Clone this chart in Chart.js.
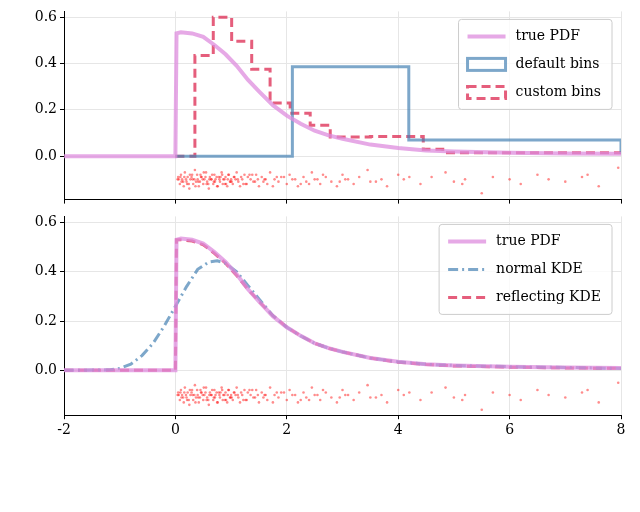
<!DOCTYPE html>
<html><head>
<script src="https://cdn.jsdelivr.net/npm/chart.js@4"></script>
<style>
body{margin:0;background:#fff;width:640px;height:512px;position:relative;overflow:hidden}
.c{position:absolute;left:0;width:640px}
</style></head><body>
<div class="c" style="top:0;height:211px"><canvas id="top"></canvas></div>
<div class="c" style="top:205px;height:237px"><canvas id="bot"></canvas></div>
<script>
// curves
const pdfX = [-2, 0, 0.02, 0.1, 0.3, 0.5, 0.7, 0.9, 1.1, 1.3, 1.5, 1.75, 2, 2.25, 2.5, 2.75, 3, 3.5, 4, 4.5, 5, 6, 7, 8];
const pdfY = [0, 0, 0.53, 0.535, 0.53, 0.515, 0.48, 0.44, 0.39, 0.33, 0.28, 0.22, 0.175, 0.14, 0.11, 0.09, 0.075, 0.05, 0.035, 0.025, 0.02, 0.015, 0.012, 0.01];
const kdeX = [-2, -1.2, -1.0, -0.8, -0.6, -0.4, -0.2, 0, 0.2, 0.4, 0.6, 0.75, 0.9, 1.1, 1.3, 1.5, 1.75, 2, 2.25, 2.5, 2.75, 3, 3.5, 4, 4.5, 5, 6, 7, 8];
const kdeY = [0, 0.002, 0.008, 0.025, 0.06, 0.11, 0.18, 0.26, 0.34, 0.41, 0.44, 0.445, 0.435, 0.4, 0.345, 0.29, 0.222, 0.175, 0.14, 0.11, 0.09, 0.075, 0.05, 0.035, 0.025, 0.02, 0.015, 0.012, 0.008];
const reflX = [-2, 0, 0.02, 0.1, 0.3, 0.5, 0.7, 0.9, 1.1, 1.3, 1.5, 1.75, 2, 2.25, 2.5, 2.75, 3, 3.5, 4, 4.5, 5, 6, 7, 8];
const reflY = [0, 0, 0.53, 0.53, 0.525, 0.51, 0.475, 0.435, 0.385, 0.33, 0.28, 0.222, 0.175, 0.14, 0.11, 0.09, 0.075, 0.05, 0.033, 0.024, 0.018, 0.013, 0.01, 0.008];
// histograms: bin edges and the height of the bin ending at each edge
const defEdges = [0, 0, 2.1, 4.19, 8];
const defHeights = [0, 0, 0.386, 0.07, 0.012];
const cusEdges = [0, 0, 0.35, 0.68, 1.01, 1.37, 1.7, 2.06, 2.42, 2.78, 3.5, 4.45, 4.8, 8];
const cusHeights = [0, 0, 0.435, 0.6, 0.496, 0.375, 0.23, 0.185, 0.133, 0.083, 0.085, 0.03, 0.015, 0.012];
// sample rug
const sampX = [0.05,0.08,0.1,0.12,0.15,0.17,0.2,0.22,0.25,0.27,0.3,0.32,0.35,0.37,0.4,0.42,0.45,0.47,0.5,0.52,0.55,0.57,0.6,0.62,0.65,0.68,0.7,0.72,0.75,0.78,0.8,0.83,0.85,0.88,0.9,0.93,0.95,0.98,1.0,1.03,1.06,1.1,1.13,1.16,1.2,1.24,1.28,1.3,1.35,1.4,1.45,1.5,1.55,1.6,1.65,1.7,1.78,1.85,1.9,2.0,2.05,2.1,2.2,2.3,2.35,2.45,2.5,2.6,2.7,2.8,2.9,3.0,3.1,3.2,3.3,3.45,3.6,3.7,3.8,4.0,4.1,4.4,4.6,4.85,5.0,5.2,5.5,5.7,6.2,6.5,6.7,7.0,7.3,7.6,7.95,
0.06,0.11,0.16,0.21,0.26,0.31,0.36,0.41,0.46,0.51,0.56,0.61,0.66,0.71,0.76,0.81,0.86,0.91,0.96,1.01,1.08,1.18,1.26,1.38,1.48,1.58,1.75,1.95,2.15,2.4,2.65,3.05,3.5,4.2,5.15,6.0,7.4,
0.04,0.09,0.14,0.19,0.24,0.29,0.34,0.39,0.44,0.49,0.54,0.59,0.64,0.69,0.74,0.79,0.84,0.89,0.94,0.99,1.05,1.12,1.22,1.33,1.43,1.62,1.82,2.25,2.55,2.95];
const sampY = [-0.09,-0.12,-0.08,-0.1,-0.13,-0.07,-0.11,-0.09,-0.14,-0.1,-0.08,-0.12,-0.06,-0.11,-0.1,-0.13,-0.08,-0.09,-0.12,-0.1,-0.07,-0.11,-0.14,-0.09,-0.1,-0.12,-0.08,-0.1,-0.13,-0.09,-0.11,-0.07,-0.12,-0.1,-0.09,-0.13,-0.08,-0.11,-0.1,-0.12,-0.09,-0.07,-0.11,-0.13,-0.1,-0.08,-0.12,-0.09,-0.1,-0.11,-0.08,-0.13,-0.09,-0.1,-0.12,-0.07,-0.1,-0.11,-0.09,-0.12,-0.08,-0.1,-0.13,-0.09,-0.11,-0.07,-0.1,-0.12,-0.09,-0.11,-0.13,-0.08,-0.1,-0.12,-0.09,-0.06,-0.11,-0.1,-0.13,-0.08,-0.1,-0.12,-0.09,-0.07,-0.11,-0.1,-0.16,-0.09,-0.12,-0.08,-0.1,-0.11,-0.09,-0.13,-0.05,
-0.1,-0.11,-0.09,-0.12,-0.08,-0.1,-0.13,-0.11,-0.09,-0.07,-0.12,-0.1,-0.08,-0.11,-0.13,-0.09,-0.1,-0.12,-0.08,-0.11,-0.1,-0.09,-0.12,-0.08,-0.1,-0.11,-0.13,-0.09,-0.1,-0.12,-0.08,-0.1,-0.11,-0.09,-0.12,-0.1,-0.08,
-0.1,-0.09,-0.11,-0.1,-0.12,-0.09,-0.1,-0.08,-0.11,-0.1,-0.09,-0.12,-0.1,-0.11,-0.09,-0.1,-0.08,-0.12,-0.1,-0.11,-0.09,-0.1,-0.12,-0.08,-0.11,-0.1,-0.09,-0.12,-0.1,-0.11];

const pts = (xs, ys) => xs.map((x, i) => ({x, y: ys[i]}));
const PINK = 'rgba(222,140,222,0.75)', BLUE = 'rgba(70,130,180,0.7)', RED = 'rgba(220,40,80,0.75)';
const FONT = "'DejaVu Serif', serif";
Chart.defaults.font.family = FONT;
Chart.defaults.color = '#000';

const insideLegend = {
  id: 'insideLegend',
  afterDraw(chart) {
    const ctx = chart.ctx, a = chart.chartArea;
    const items = chart.data.datasets.filter(d => d.label);
    ctx.save();
    ctx.font = '14px ' + FONT;
    const tw = Math.max(...items.map(d => ctx.measureText(d.label).width));
    const w = tw + 68, h = items.length * 28 + 6;
    const x0 = a.right - w - 9, y0 = a.top + 8;
    ctx.fillStyle = 'rgba(255,255,255,0.8)';
    ctx.strokeStyle = '#ccc';
    ctx.lineWidth = 1;
    ctx.beginPath(); ctx.roundRect(x0, y0, w, h, 3); ctx.fill(); ctx.stroke();
    items.forEach((d, i) => {
      const y = y0 + 17 + i * 28;
      ctx.strokeStyle = d.borderColor; ctx.lineWidth = d.borderWidth;
      ctx.setLineDash(d.borderDash || []);
      if (d.boxLegend) {
        ctx.strokeRect(x0 + 9, y - 6, 38, 12);
      } else {
        ctx.beginPath(); ctx.moveTo(x0 + 9, y); ctx.lineTo(x0 + 47, y); ctx.stroke();
      }
      ctx.setLineDash([]);
      ctx.fillStyle = '#000'; ctx.textBaseline = 'middle';
      ctx.fillText(d.label, x0 + 57, y);
    });
    ctx.restore();
  }
};

function rug() {
  return {type: 'scatter', data: pts(sampX, sampY), pointRadius: 1.3, borderWidth: 0,
    backgroundColor: 'rgba(255,0,0,0.45)', order: 10};
}
function line(label, xs, ys, color, w, dash, stepped) {
  return {type: 'line', label, data: pts(xs, ys), borderColor: color, borderWidth: w,
    borderDash: dash, pointRadius: 0, fill: false, stepped: stepped || false,
    boxLegend: !!stepped, tension: 0};
}
function opts(showX, ymin, ymax) {
  return {
    responsive: true, maintainAspectRatio: false, animation: false,
    layout: {padding: {top: 10, right: 19, bottom: 0}},
    plugins: {legend: {display: false}, tooltip: {enabled: false}},
    scales: {
      x: {type: 'linear', min: -2, max: 8, border: {color: '#000'},
        ticks: {stepSize: 2, display: showX, font: {size: 14}, maxRotation: 0},
        grid: {color: '#e6e6e6', tickColor: '#000', tickLength: 4}},
      y: {min: ymin, max: ymax, border: {color: '#000'},
        afterFit: s => { s.width = 64; },
        afterBuildTicks: s => { s.ticks = [0, 0.2, 0.4, 0.6].map(v => ({value: v})); },
        ticks: {font: {size: 14}, callback: v => v.toFixed(1)},
        grid: {color: '#e6e6e6', tickColor: '#000', tickLength: 4}}
    }
  };
}

new Chart(document.getElementById('top'), {
  data: {datasets: [
    line('true PDF', pdfX, pdfY, PINK, 4, []),
    line('default bins', defEdges, defHeights, BLUE, 3, [], 'before'),
    line('custom bins', cusEdges, cusHeights, RED, 3, [9, 5], 'before'),
    rug()
  ]},
  options: opts(false, -0.1875, 0.625),
  plugins: [insideLegend]
});

new Chart(document.getElementById('bot'), {
  data: {datasets: [
    line('true PDF', pdfX, pdfY, PINK, 4, []),
    line('normal KDE', kdeX, kdeY, BLUE, 3, [10, 4, 2, 4]),
    line('reflecting KDE', reflX, reflY, RED, 3, [9, 5]),
    rug()
  ]},
  options: opts(true, -0.182, 0.625),
  plugins: [insideLegend]
});
</script>
</body></html>
